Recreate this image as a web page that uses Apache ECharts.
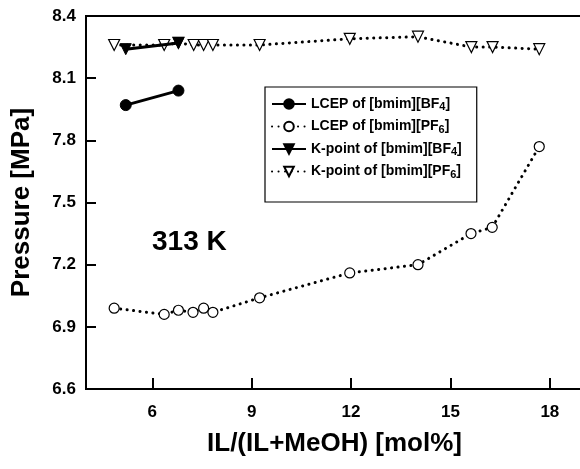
<!DOCTYPE html>
<html>
<head>
<meta charset="utf-8">
<script src="https://cdn.jsdelivr.net/npm/echarts@6/dist/echarts.min.js"></script>
<style>
html,body{margin:0;padding:0;background:#fff;}
#chart{width:580px;height:469px;}
</style>
</head>
<body>
<div id="chart"></div>
<script>
// ---- data ----
var seriesNames = ['LCEP of [bmim][BF4]', 'LCEP of [bmim][PF6]', 'K-point of [bmim][BF4]', 'K-point of [bmim][PF6]'];

var lcepBF4X = [5.20, 6.79];
var lcepBF4Y = [7.97, 8.04];

var lcepPF6X = [4.85, 6.36, 6.79, 7.23, 7.55, 7.83, 9.24, 11.96, 14.02, 15.62, 16.26, 17.68];
var lcepPF6Y = [6.99, 6.96, 6.98, 6.97, 6.99, 6.97, 7.04, 7.16, 7.20, 7.35, 7.38, 7.77];

var kBF4X = [5.20, 6.79];
var kBF4Y = [8.24, 8.27];

var kPF6X = [4.85, 6.36, 6.79, 7.25, 7.55, 7.83, 9.24, 11.96, 14.02, 15.63, 16.27, 17.68];
var kPF6Y = [8.26, 8.26, 8.27, 8.26, 8.26, 8.26, 8.26, 8.29, 8.30, 8.25, 8.25, 8.24];

var xTicks = [6, 9, 12, 15, 18];
var yMin = 6.6, yMax = 8.4, yStep = 0.3;
var xMin = 4, xMax = 19;
var tempLabel = '313 K';
var xTitle = 'IL/(IL+MeOH) [mol%]';
var yTitle = 'Pressure [MPa]';

function pairs(xs, ys) { return xs.map(function (x, i) { return [x, ys[i]]; }); }

var FONT = 'Liberation Sans, Arial, Helvetica, sans-serif';
var dotted = { type: [0.1, 6.4], cap: 'round', width: 3, color: '#000' };
var solid = { type: 'solid', width: 3, color: '#000' };

var chart = echarts.init(document.getElementById('chart'));
chart.setOption({
  animation: false,
  backgroundColor: '#fff',
  grid: { left: 86, top: 16, width: 497, height: 373, outerBoundsMode: 'none', containLabel: false,
    show: true, borderColor: '#000', borderWidth: 2, backgroundColor: 'transparent' },
  xAxis: {
    type: 'value', min: xMin, max: xMax,
    splitLine: { show: false },
    axisLine: { lineStyle: { color: '#000', width: 2 } },
    axisTick: { show: true, inside: true, length: 11, lineStyle: { color: '#000', width: 2 }, customValues: xTicks },
    axisLabel: { customValues: xTicks, color: '#000', fontFamily: FONT, fontWeight: 'bold', fontSize: 17, margin: 15 },
    name: xTitle, nameLocation: 'middle', nameGap: 42,
    nameTextStyle: { color: '#000', fontFamily: FONT, fontWeight: 'bold', fontSize: 26 }
  },
  yAxis: {
    type: 'value', min: yMin, max: yMax, interval: yStep,
    splitLine: { show: false },
    axisLine: { show: true, lineStyle: { color: '#000', width: 2 } },
    axisTick: { show: true, inside: true, length: 10, lineStyle: { color: '#000', width: 2 } },
    axisLabel: { color: '#000', fontFamily: FONT, fontWeight: 'bold', fontSize: 17, margin: 10,
      formatter: function (v) { return v.toFixed(1); } },
    name: yTitle, nameLocation: 'middle', nameGap: 51,
    nameTextStyle: { color: '#000', fontFamily: FONT, fontWeight: 'bold', fontSize: 26 }
  },
  legend: {
    orient: 'vertical', left: 265, top: 87,
    data: seriesNames,
    backgroundColor: '#fff',
    borderColor: '#000', borderWidth: 1.2, borderRadius: 0,
    padding: [10, 15, 22, 6],
    itemWidth: 34, itemHeight: 12, itemGap: 7,
    textStyle: { color: '#000', fontFamily: FONT, fontWeight: 'bold', fontSize: 14,
      rich: { s: { fontFamily: FONT, fontWeight: 'bold', fontSize: 11, verticalAlign: 'bottom', padding: [6, 0, 0, 0], color: '#000' } } },
    formatter: function (n) { return n.replace(/(BF|PF)(\d)/, '$1{s|$2}'); }
  },
  graphic: [{
    type: 'text', left: 152, top: 228,
    style: { text: tempLabel, font: 'bold 28px ' + FONT, fill: '#000' }
  }],
  series: [
    { name: seriesNames[3], type: 'line', data: pairs(kPF6X, kPF6Y),
      symbol: 'triangle', symbolRotate: 180, symbolSize: 11,
      itemStyle: { color: '#fff', borderColor: '#000', borderWidth: 1.2 },
      lineStyle: dotted, z: 2 },
    { name: seriesNames[1], type: 'line', data: pairs(lcepPF6X, lcepPF6Y),
      symbol: 'circle', symbolSize: 10,
      itemStyle: { color: '#fff', borderColor: '#000', borderWidth: 1.2 },
      lineStyle: dotted, z: 2 },
    { name: seriesNames[2], type: 'line', data: pairs(kBF4X, kBF4Y),
      symbol: 'triangle', symbolRotate: 180, symbolSize: 11,
      itemStyle: { color: '#000', borderColor: '#000', borderWidth: 1 },
      lineStyle: solid, z: 3 },
    { name: seriesNames[0], type: 'line', data: pairs(lcepBF4X, lcepBF4Y),
      symbol: 'circle', symbolSize: 11,
      itemStyle: { color: '#000', borderColor: '#000', borderWidth: 1 },
      lineStyle: solid, z: 3 }
  ]
});
</script>
</body>
</html>
